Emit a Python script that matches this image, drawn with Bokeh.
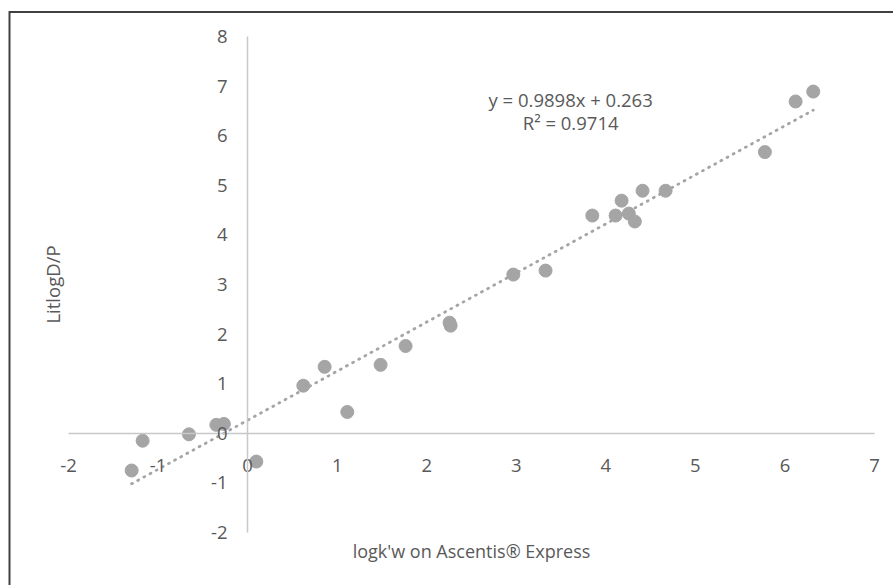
from bokeh.plotting import figure
from bokeh.models import Range1d, FixedTicker, Label
from bokeh.embed import file_html
from bokeh.resources import INLINE

# data
x_vals = [-1.295, -1.172, -0.655, -0.349, -0.265, 0.097, 0.622, 0.86, 1.113, 1.485,
          1.764, 2.255, 2.267, 2.967, 3.327, 3.849, 4.109, 4.176, 4.257, 4.324,
          4.41, 4.667, 5.776, 6.119, 6.316]
y_vals = [-0.75, -0.15, -0.02, 0.17, 0.19, -0.57, 0.96, 1.34, 0.43, 1.38,
          1.76, 2.23, 2.17, 3.20, 3.28, 4.39, 4.39, 4.69, 4.43, 4.27,
          4.89, 4.89, 5.67, 6.69, 6.89]

slope = 0.9898
intercept = 0.263
r_squared = 0.9714

x_ticks = [-2, -1, 0, 1, 2, 3, 4, 5, 6, 7]
x_tick_labels = ["-2", "-1", "0", "1", "2", "3", "4", "5", "6", "7"]
y_ticks = [-2, -1, 0, 1, 2, 3, 4, 5, 6, 7, 8]
y_tick_labels = ["-2", "-1", "0", "1", "2", "3", "4", "5", "6", "7", "8"]

x_title = "logk'w on Ascentis® Express"
y_title = "LitlogD/P"

# layout (pixels)
W, H = 893, 585
PX_LEFT, PX_RIGHT, PX_TOP, PX_BOTTOM = 68, 874, 36, 532
BORDER_LEFT, BORDER_TOP = 9, 11.5

FONT = "Open Sans"
TXT = "#595959"
GRAY = "#a5a5a5"
AXIS = "#c8c8c8"

xs = (PX_RIGHT - PX_LEFT) / (x_ticks[-1] - x_ticks[0])
ys = (PX_BOTTOM - PX_TOP) / (y_ticks[-1] - y_ticks[0])
x0 = x_ticks[0] - PX_LEFT / xs
x1 = x_ticks[-1] + (W - PX_RIGHT) / xs
y0 = y_ticks[0] - (H - PX_BOTTOM) / ys
y1 = y_ticks[-1] + PX_TOP / ys

p = figure(frame_width=W, frame_height=H, x_range=Range1d(x0, x1), y_range=Range1d(y0, y1),
           output_backend="svg", toolbar_location=None,
           min_border=0, min_border_left=0, min_border_right=0,
           min_border_top=0, min_border_bottom=0)
p.outline_line_color = None
p.grid.visible = False
p.background_fill_color = "white"
p.border_fill_color = "white"

for ax, ticks, labels, standoff in ((p.xaxis[0], x_ticks, x_tick_labels, 20),
                                    (p.yaxis[0], y_ticks, y_tick_labels, 14)):
    ax.fixed_location = 0
    ax.bounds = (ticks[0], ticks[-1])
    ax.ticker = FixedTicker(ticks=ticks)
    ax.major_label_overrides = {t: l for t, l in zip(ticks, labels)}
    ax.major_tick_line_color = None
    ax.minor_tick_line_color = None
    ax.axis_line_color = AXIS
    ax.axis_line_width = 1.5
    ax.major_label_text_font = FONT
    ax.major_label_text_font_size = "18.5px"
    ax.major_label_text_color = TXT
    ax.major_label_standoff = standoff

# chart border (left and top edges visible, the rest runs off the page)
bx = x0 + BORDER_LEFT / xs
by = y1 - BORDER_TOP / ys
p.line([bx, bx, x1 + 1], [y0 - 1, by, by], line_color="#404040", line_width=2,
       line_join="miter")

# trendline over data extent
xmin, xmax = min(x_vals), max(x_vals)
p.line([xmin, xmax], [slope * xmin + intercept, slope * xmax + intercept],
       line_color=GRAY, line_width=2.8, line_dash="1 6", line_cap="round")

p.scatter(x_vals, y_vals, size=13, fill_color=GRAY, line_color=GRAY)

# equation text
eq1 = "y = %.4fx + %.3f" % (slope, intercept)
eq2 = "R² = %.4f" % r_squared
p.add_layout(Label(x=3.607, y=6.73, text=eq1, text_align="center", text_baseline="middle",
                   text_font=FONT, text_font_size="18.5px", text_color=TXT))
p.add_layout(Label(x=3.607, y=6.27, text=eq2, text_align="center", text_baseline="middle",
                   text_font=FONT, text_font_size="18.5px", text_color=TXT))

# axis titles
xc = (x_ticks[0] + x_ticks[-1]) / 2
yc = (y_ticks[0] + y_ticks[-1]) / 2
p.add_layout(Label(x=xc, y=y_ticks[0], y_offset=-18, text=x_title, text_align="center",
                   text_baseline="middle", text_font=FONT, text_font_size="18px",
                   text_color=TXT))
p.add_layout(Label(x=x_ticks[0], y=yc, x_offset=-16, text=y_title, angle=1.5707963,
                   text_align="center", text_baseline="middle", text_font=FONT,
                   text_font_size="18.5px", text_color=TXT))

open("out.html", "w").write(file_html(p, INLINE))
